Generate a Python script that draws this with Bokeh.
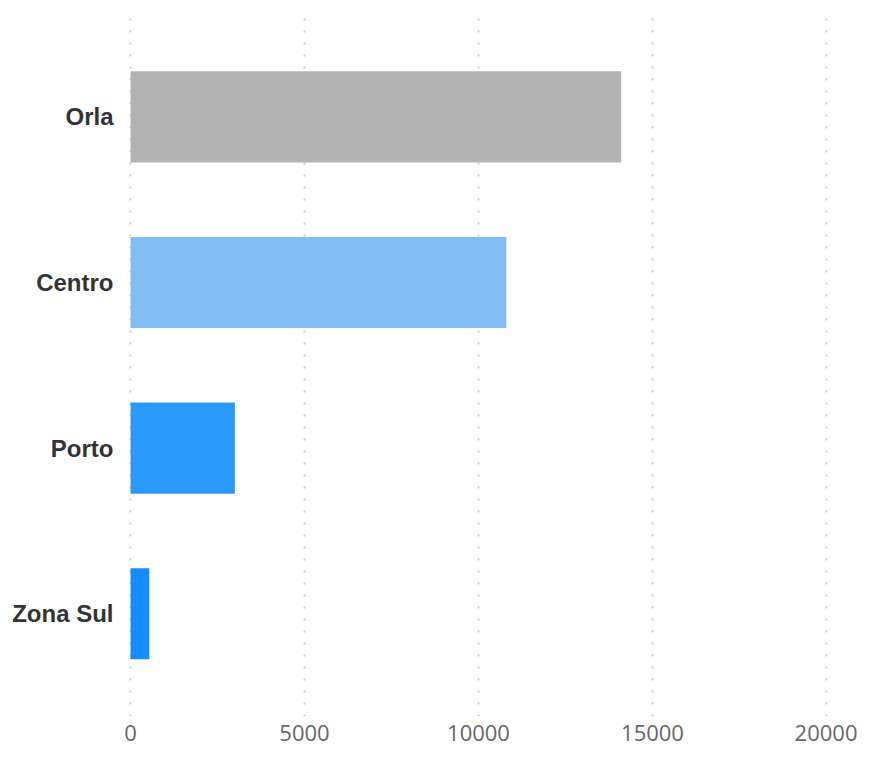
from bokeh.plotting import figure
from bokeh.models import Range1d, FixedTicker
from bokeh.embed import file_html
from bokeh.resources import INLINE

categories = ["Zona Sul", "Porto", "Centro", "Orla"]
values = [540, 3000, 10800, 14100]
colors = ["#138dff", "#2b98fc", "#84bdf3", "#b3b3b3"]
x_ticks = [0, 5000, 10000, 15000, 20000]

positions = list(range(len(categories)))

p = figure(width=857, height=750, output_backend="svg", toolbar_location=None,
           x_range=Range1d(-115, 20891), y_range=Range1d(-0.62, 3.642),
           min_border_left=126, min_border_right=0, min_border_top=10,
           min_border_bottom=34)
p.outline_line_color = None
p.background_fill_color = "white"
p.border_fill_color = "white"

p.hbar(y=positions, right=values, left=0, height=0.55, fill_color=colors,
       line_color=None)

p.xaxis.ticker = FixedTicker(ticks=x_ticks)
p.xaxis.axis_line_color = None
p.xaxis.major_tick_line_color = None
p.xaxis.minor_tick_line_color = None
p.xaxis.major_label_text_font = "Open Sans"
p.xaxis.major_label_text_font_size = "22px"
p.xaxis.major_label_text_color = "#666666"
p.xaxis.major_label_standoff = 2

p.yaxis.ticker = FixedTicker(ticks=positions)
p.yaxis.major_label_overrides = {i: c for i, c in zip(positions, categories)}
p.yaxis.axis_line_color = None
p.yaxis.major_tick_line_color = None
p.yaxis.minor_tick_line_color = None
p.yaxis.major_label_text_font = "Liberation Sans"
p.yaxis.major_label_text_font_style = "bold"
p.yaxis.major_label_text_font_size = "24px"
p.yaxis.major_label_text_color = "#333333"
p.yaxis.major_label_standoff = 7

p.ygrid.grid_line_color = None
p.xgrid.ticker = FixedTicker(ticks=x_ticks)
p.xgrid.grid_line_color = "#cccccc"
p.xgrid.grid_line_width = 2
p.xgrid.grid_line_dash = "2 10"

open("out.html", "w").write(file_html(p, INLINE))
